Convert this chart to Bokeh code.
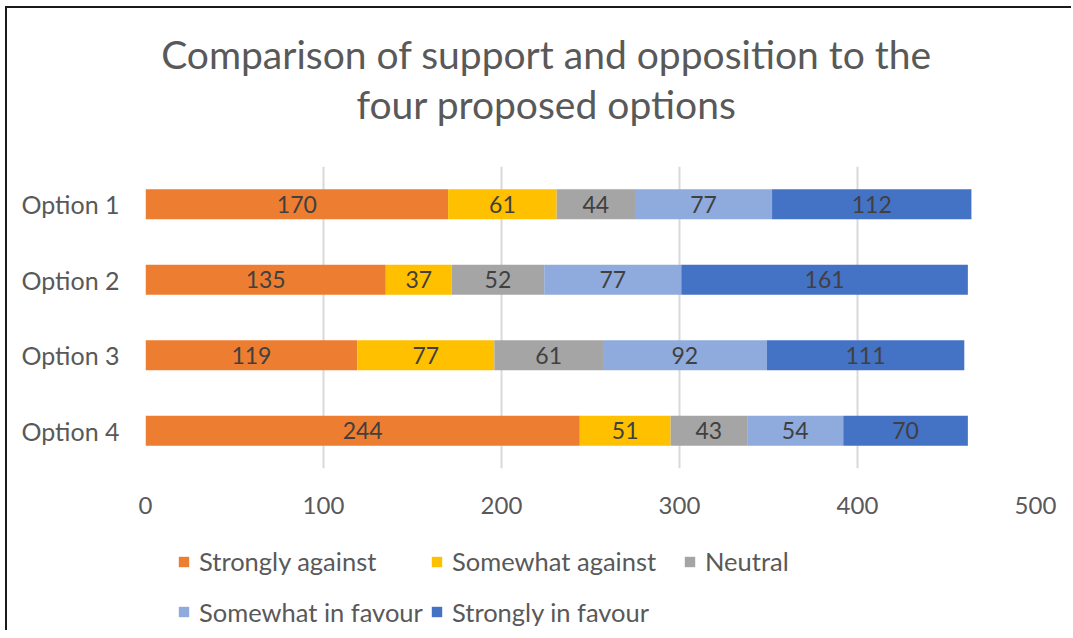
from bokeh.plotting import figure
from bokeh.layouts import column
from bokeh.models import (FactorRange, Range1d, FixedTicker, Legend, LegendItem,
                          ColumnDataSource)
from bokeh.core.properties import value
from bokeh.embed import file_html
from bokeh.resources import INLINE

# ---- data ----
options = ["Option 1", "Option 2", "Option 3", "Option 4"]
series = ["Strongly against", "Somewhat against", "Neutral",
          "Somewhat in favour", "Strongly in favour"]
strongly_against = [170, 135, 119, 244]
somewhat_against = [61, 37, 77, 51]
neutral = [44, 52, 61, 43]
somewhat_in_favour = [77, 77, 92, 54]
strongly_in_favour = [112, 161, 111, 70]
x_ticks = [0, 100, 200, 300, 400, 500]
colors = ["#ED7D31", "#FFC000", "#A5A5A5", "#8FAADC", "#4472C4"]
title_lines = ["Comparison of support and opposition to the",
               "four proposed options"]

FONT = "Lato"
TXT = "#595959"
W = 1064
BL, BR = 138, 36          # left / right borders -> frame width 890
FW = W - BL - BR

values = [strongly_against, somewhat_against, neutral,
          somewhat_in_favour, strongly_in_favour]


def blank_fig(height, x_end, y_end):
    f = figure(width=W, height=height, x_range=Range1d(0, x_end),
               y_range=Range1d(0, y_end), output_backend="svg",
               toolbar_location=None, title=None,
               min_border_left=BL, min_border_right=BR,
               min_border_top=0, min_border_bottom=0,
               outline_line_color=None)
    f.axis.visible = False
    f.grid.visible = False
    return f


# ---- title figure (x in frame pixels) ----
TH = 140
pt = blank_fig(TH, FW, TH)
pt.text(x=[401, 401], y=[95, 45], text=title_lines,
        text_align="center", text_baseline="middle",
        text_font=value(FONT), text_font_size="39px", text_color=TXT)

# ---- main chart ----
data = {"option": options}
for name, vals in zip(series, values):
    data[name] = vals
source = ColumnDataSource(data)

p = figure(width=W, height=382,
           y_range=FactorRange(factors=list(reversed(options)), range_padding=0),
           x_range=Range1d(0, 500),
           output_backend="svg", toolbar_location=None, title=None,
           min_border_left=BL, min_border_right=BR,
           min_border_top=18, min_border_bottom=62)
p.outline_line_color = None

p.hbar_stack(series, y="option", height=0.4, color=colors,
             line_color=None, source=source)

for i, name in enumerate(series):
    mids = []
    for j in range(len(options)):
        left = sum(values[k][j] for k in range(i))
        mids.append(left + values[i][j] / 2)
    p.text(x=mids, y=options, text=[str(v) for v in values[i]],
           text_align="center", text_baseline="middle",
           text_font=value(FONT), text_font_size="23px", text_color="#404040")

p.xaxis.ticker = FixedTicker(ticks=x_ticks)
for ax in (p.xaxis, p.yaxis):
    ax.axis_line_color = None
    ax.major_tick_line_color = None
    ax.minor_tick_line_color = None
    ax.major_tick_in = 0
    ax.major_tick_out = 0
    ax.major_label_text_font = FONT
    ax.major_label_text_color = TXT
p.xaxis.major_label_text_font_size = "24px"
p.xaxis.major_label_standoff = 28
p.yaxis.major_label_text_font_size = "25px"
p.yaxis.major_label_standoff = 26

p.xgrid.grid_line_color = "#D9D9D9"
p.xgrid.grid_line_width = 2
p.ygrid.grid_line_color = None

# ---- legend figure ----
LH = 100
pl = blank_fig(LH, 1, 1)
# zero-size swatch renderers: only their legend glyphs are shown
swatches = [pl.hbar(y=[0.5], left=[0], right=[0], height=0, fill_color=c,
                    line_color=None)
            for c in colors]
items = [LegendItem(label=s, renderers=[r]) for s, r in zip(series, swatches)]
for row_items, y in [(items[:3], 54), (items[3:], 3.5)]:
    lg = Legend(items=row_items, orientation="horizontal", location=(32, y),
                glyph_width=13, glyph_height=13, label_standoff=9,
                label_width=231, spacing=0, padding=0, margin=0,
                border_line_color=None, background_fill_alpha=0,
                label_text_font=FONT, label_text_font_size="25.5px",
                label_text_color=TXT, label_height=13)
    pl.add_layout(lg, "center")

layout = column(pt, p, pl, spacing=0)
layout.styles = {"margin-left": "5px", "margin-top": "6px",
                 "border-left": "2px solid #1a1a1a",
                 "border-top": "2px solid #1a1a1a"}

open("out.html", "w").write(file_html(layout, INLINE))
